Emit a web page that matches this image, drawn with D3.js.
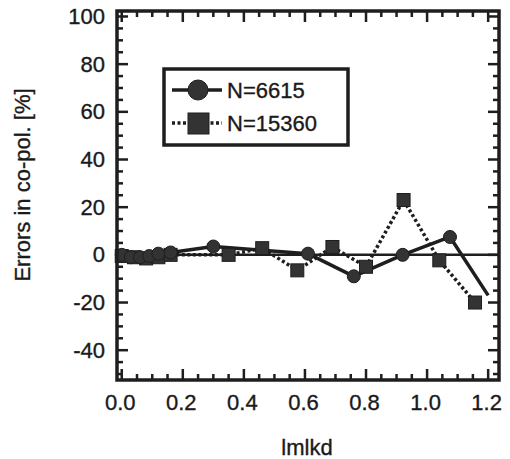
<!DOCTYPE html>
<html><head><meta charset="utf-8">
<script src="https://cdn.jsdelivr.net/npm/d3@7"></script>
<style>body{margin:0;background:#fff}text{font-family:"Liberation Sans",Arial,sans-serif;fill:#1a1a1a;stroke:#1a1a1a;stroke-width:0.35px}</style>
</head><body><svg id="c" width="510" height="459"></svg>
<script>
const circleX = [0.0, 0.03, 0.06, 0.09, 0.12, 0.16, 0.30, 0.61, 0.76, 0.92, 1.075, 1.2];
const circleY = [0, -1, -1, -0.5, 0.5, 1, 3.5, 0.5, -9, 0, 7.5, -17];
const squareX = [0.0, 0.04, 0.08, 0.12, 0.16, 0.35, 0.46, 0.575, 0.69, 0.80, 0.923, 1.04, 1.157];
const squareY = [-0.5, -1, -1.5, -1, 0, 0, 2.8, -6.5, 3.3, -5, 23, -2.3, -20];
const xTicks = [0.0, 0.2, 0.4, 0.6, 0.8, 1.0, 1.2];
const yTicks = [-40, -20, 0, 20, 40, 60, 80, 100];
const seriesNames = ["N=6615", "N=15360"];

const ink = "#1e1e1e";
const svg = d3.select("#c");
const L = 117, R = 499, T = 11, B = 380;
const x = d3.scaleLinear().domain([-0.0155, 1.2355]).range([L, R]);
const y = d3.scaleLinear().domain([-52.5, 102.3]).range([B, T]);

const xMinor = d3.range(0, 1.2001, 0.05).map(v => +v.toFixed(2));
const yMinor = d3.range(-50, 100.01, 5);
const g = svg.append("g");
function tickSet(vals, major, isX) {
  vals.forEach(v => {
    const len = major.some(m => Math.abs(m - v) < 1e-6) ? 11 : 6;
    if (isX) {
      const px = x(v);
      g.append("line").attr("x1", px).attr("x2", px).attr("y1", B).attr("y2", B - len);
      g.append("line").attr("x1", px).attr("x2", px).attr("y1", T).attr("y2", T + len);
    } else {
      const py = y(v);
      g.append("line").attr("y1", py).attr("y2", py).attr("x1", L).attr("x2", L + len);
      g.append("line").attr("y1", py).attr("y2", py).attr("x1", R).attr("x2", R - len);
    }
  });
}
tickSet(xMinor, xTicks, true);
tickSet(yMinor, yTicks, false);
g.selectAll("line").attr("stroke", ink).attr("stroke-width", 2.5);

const xAxis = d3.axisBottom(x).tickValues(xTicks).tickFormat(d => d.toFixed(1)).tickSize(0).tickPadding(14);
const ax = svg.append("g").attr("transform", `translate(-2,${B})`).call(xAxis);
ax.select(".domain").remove();
ax.selectAll("text").attr("font-size", 22).attr("font-family", "Liberation Sans, Arial").attr("fill", ink);
const yAxis = d3.axisLeft(y).tickValues(yTicks).tickFormat(d => String(d)).tickSize(0).tickPadding(12);
const ay = svg.append("g").attr("transform", `translate(${L},0)`).call(yAxis);
ay.select(".domain").remove();
ay.selectAll("text").attr("font-size", 22).attr("font-family", "Liberation Sans, Arial").attr("fill", ink);

svg.append("line").attr("x1", L).attr("x2", R).attr("y1", y(0)).attr("y2", y(0))
  .attr("stroke", ink).attr("stroke-width", 2.5);

const line = d3.line().x(d => x(d[0])).y(d => y(d[1]));
const cData = circleX.map((v, i) => [v, circleY[i]]);
const sData = squareX.map((v, i) => [v, squareY[i]]);

svg.append("path").datum(sData).attr("d", line).attr("fill", "none")
  .attr("stroke", ink).attr("stroke-width", 3.5).attr("stroke-dasharray", "3,2.5");
svg.append("path").datum(cData).attr("d", line).attr("fill", "none")
  .attr("stroke", ink).attr("stroke-width", 3.5).attr("stroke-linejoin", "round");

const mk = "#333";
svg.selectAll(".sq").data(sData).join("rect")
  .attr("x", d => x(d[0]) - 6.5).attr("y", d => y(d[1]) - 6.5)
  .attr("width", 13).attr("height", 13).attr("fill", mk).attr("stroke", ink).attr("stroke-width", 1);
svg.selectAll(".ci").data(cData.slice(0, -1)).join("circle")
  .attr("cx", d => x(d[0])).attr("cy", d => y(d[1])).attr("r", 6.5)
  .attr("fill", mk).attr("stroke", ink).attr("stroke-width", 1);

svg.append("rect").attr("x", L).attr("y", T).attr("width", R - L).attr("height", B - T)
  .attr("fill", "none").attr("stroke", ink).attr("stroke-width", 3.5);

const lg = svg.append("g");
lg.append("rect").attr("x", 164).attr("y", 69).attr("width", 184).attr("height", 76)
  .attr("fill", "#fff").attr("stroke", ink).attr("stroke-width", 3.5);
lg.append("line").attr("x1", 172).attr("x2", 222).attr("y1", 90).attr("y2", 90)
  .attr("stroke", ink).attr("stroke-width", 3.5);
lg.append("circle").attr("cx", 198).attr("cy", 90).attr("r", 10).attr("fill", mk).attr("stroke", ink);
lg.append("line").attr("x1", 172).attr("x2", 222).attr("y1", 123).attr("y2", 123)
  .attr("stroke", ink).attr("stroke-width", 3.5).attr("stroke-dasharray", "3,2.5");
lg.append("rect").attr("x", 188).attr("y", 113).attr("width", 21).attr("height", 21).attr("fill", mk).attr("stroke", ink);
lg.append("text").attr("x", 227).attr("y", 98).attr("font-size", 22).text(seriesNames[0]);
lg.append("text").attr("x", 227).attr("y", 131).attr("font-size", 22).text(seriesNames[1]);

svg.append("text").attr("x", 307).attr("y", 455).attr("text-anchor", "middle").attr("font-size", 22).text("lmlkd");
svg.append("text").attr("transform", "translate(30,185) rotate(-90)").attr("text-anchor", "middle")
  .attr("font-size", 22).text("Errors in co-pol. [%]");
</script></body></html>
